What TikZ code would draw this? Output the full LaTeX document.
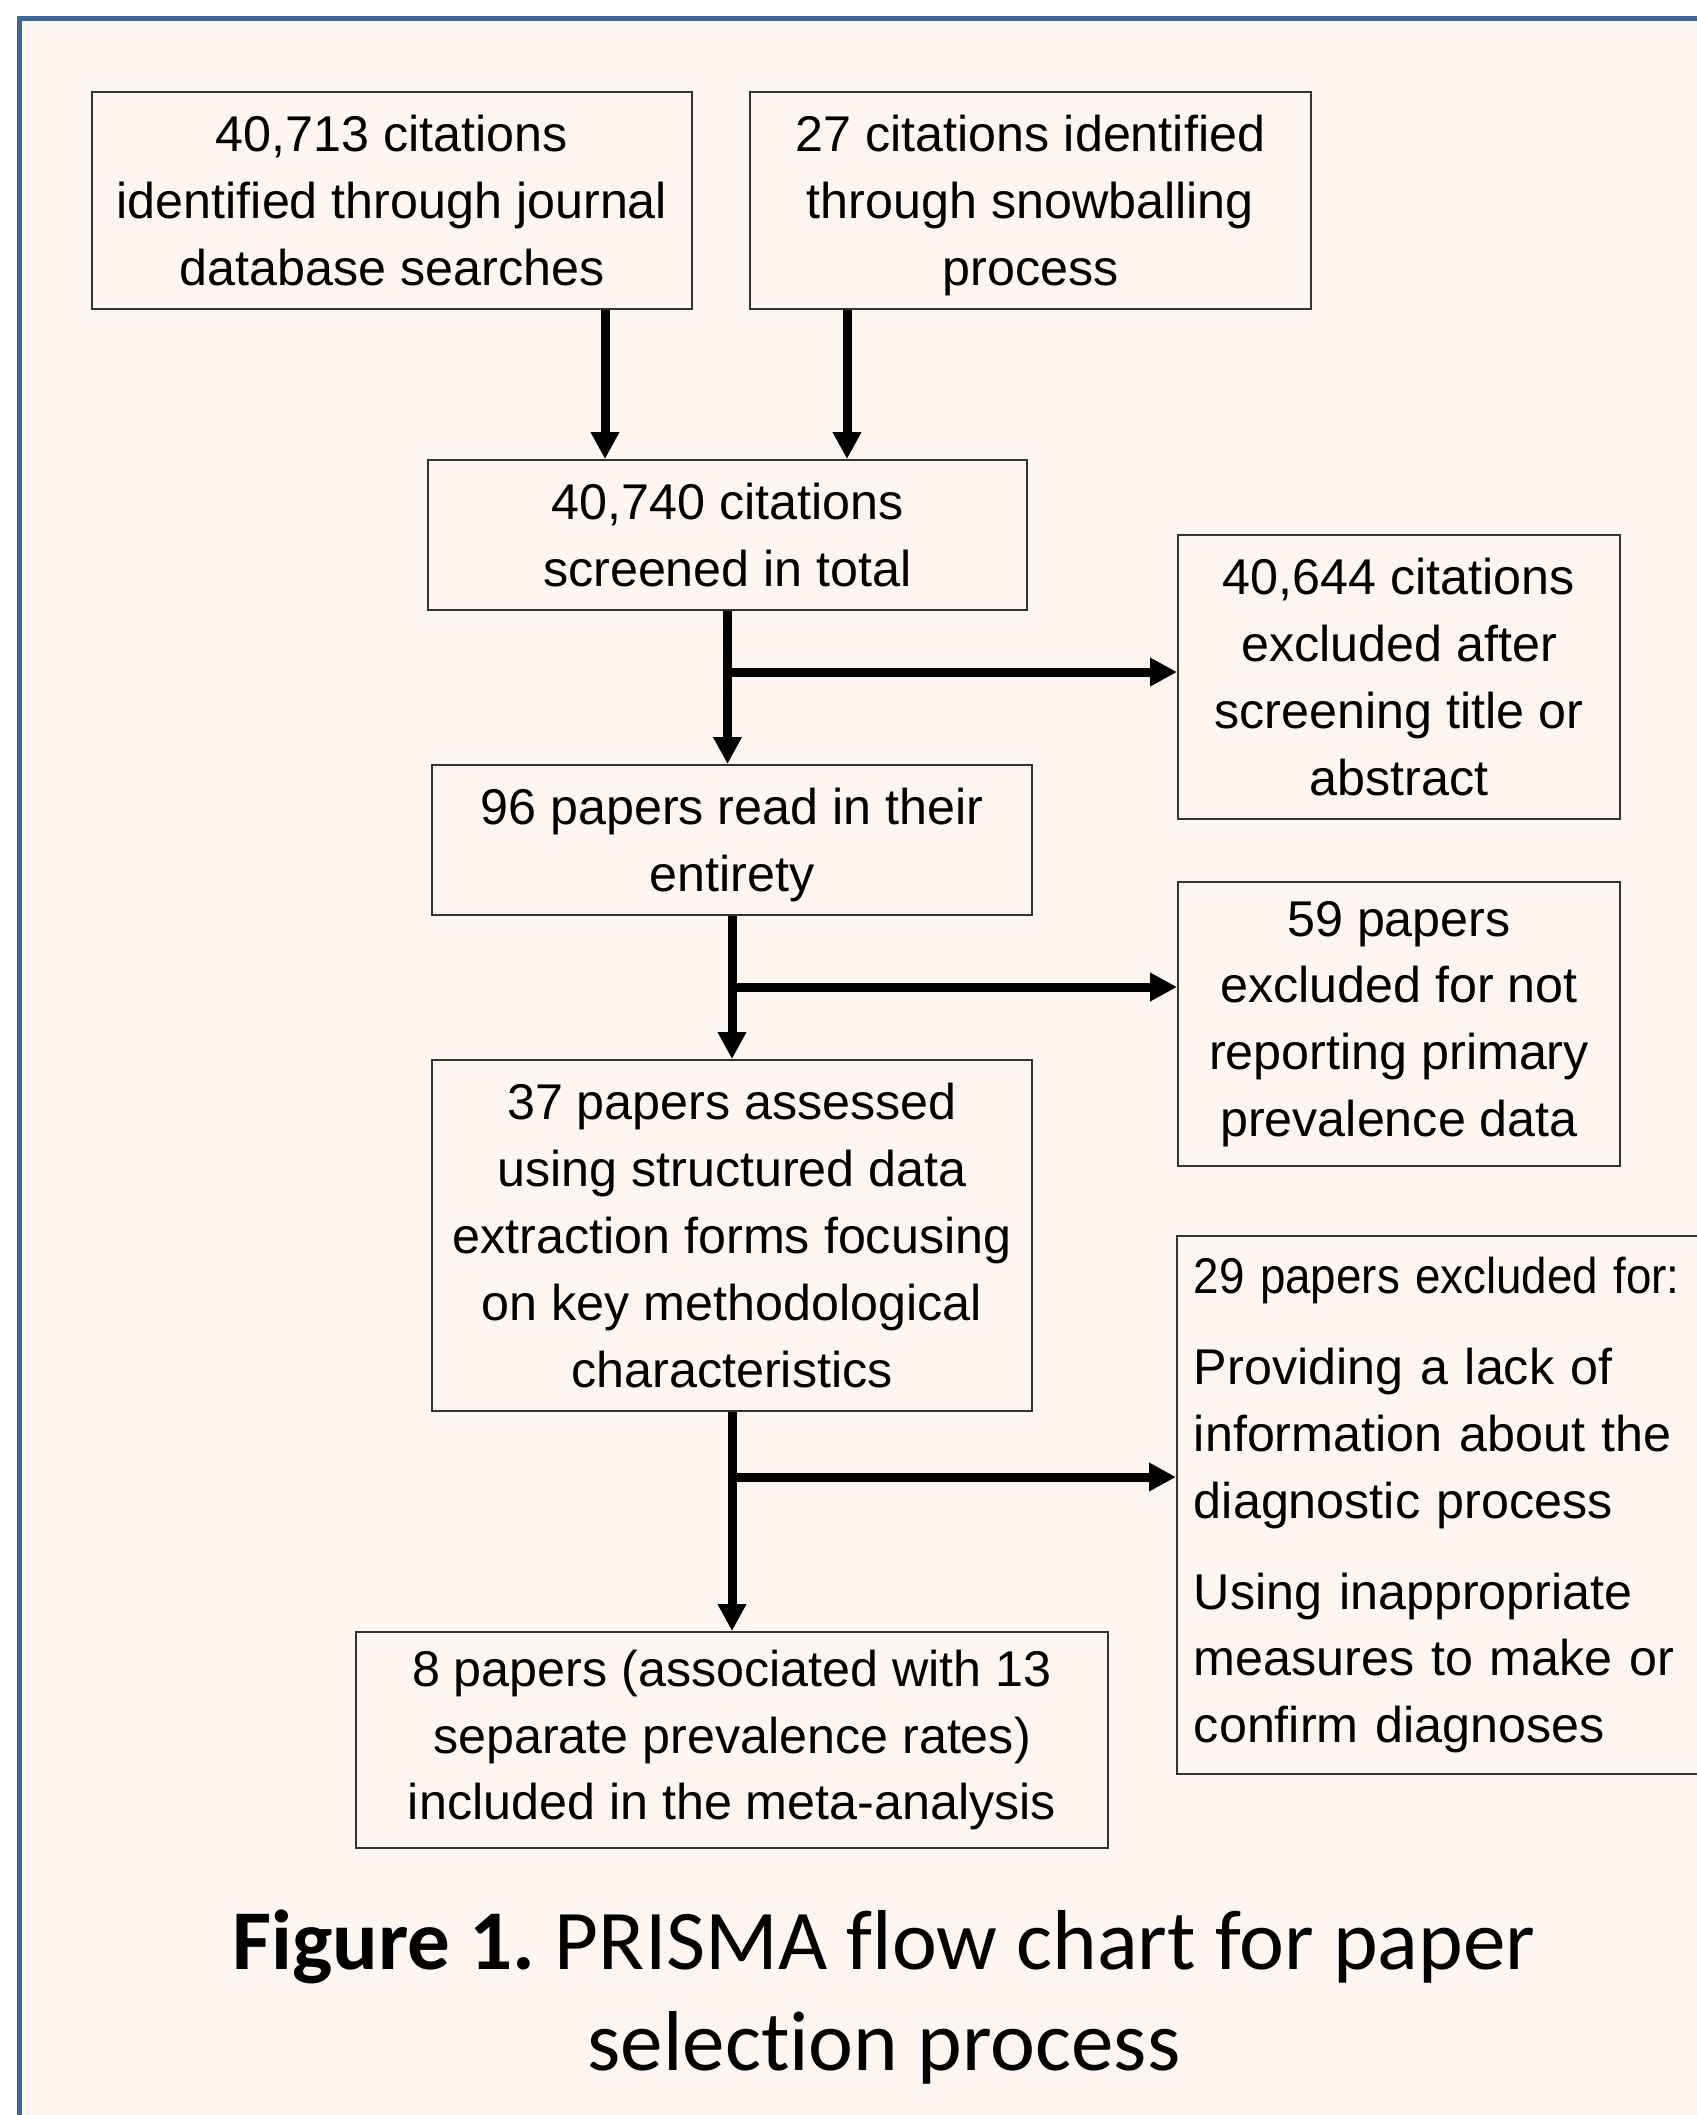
\documentclass[tikz,border=0pt]{standalone}
\usepackage{fontspec}
\setmainfont{Liberation Sans}
\newfontfamily\captionfont[Ligatures=NoCommon]{Carlito}
\usetikzlibrary{arrows.meta}

\definecolor{framebg}{HTML}{FDF5F0}
\definecolor{frameblue}{HTML}{3D6596}
\definecolor{boxline}{HTML}{333333}

\tikzset{
  box/.style={draw=boxline, line width=0.55pt, align=center, inner sep=0pt,
    font=\fontsize{14.3}{19}\selectfont},
  arrow/.style={line width=0.09cm, -{Triangle[length=0.27cm,width=0.27cm]}},
}

\begin{document}
\begin{tikzpicture}
\useasboundingbox (0,0) rectangle (16.97,-21.15);
\clip (0,0) rectangle (16.97,-21.15);

% Background
\fill[white] (0,0) rectangle (16.97,-21.15);
\draw[frameblue, line width=0.05cm, fill=framebg] (0.195,-0.18) rectangle (17.6,-21.6);

% Sources
\node[box, minimum width=6cm, minimum height=2.17cm] (jrnl) at (3.92,-2.005)
  {40,713 citations\\identified through journal\\database searches};
\node[box, minimum width=5.61cm, minimum height=2.17cm] (snow) at (10.305,-2.005)
  {\strut 27 citations identified\\through snowballing\\process};

% Main column
\node[box, minimum width=5.99cm, minimum height=1.5cm] (screen) at (7.275,-5.35)
  {40,740 citations\\screened in total};
\node[box, minimum width=6cm, minimum height=1.5cm] (full) at (7.32,-8.4)
  {\strut 96 papers read in their\\entirety};
\node[box, minimum width=6cm, minimum height=3.51cm] (assess) at (7.32,-12.355)
  {37 papers assessed\\using structured data\\extraction forms focusing\\on key methodological\\characteristics};
\node[box, minimum width=7.52cm, minimum height=2.16cm] (incl) at (7.32,-17.4)
  {8 papers (associated with 13\\separate prevalence rates)\\included in the meta-analysis};

% Exclusions
\node[box, minimum width=4.42cm, minimum height=2.84cm] (excl1) at (13.99,-6.77)
  {40,644 citations\\excluded after\\screening title or\\abstract};
\node[box, minimum width=4.42cm, minimum height=2.84cm] (excl2) at (13.99,-10.24)
  {59 papers\\excluded for not\\reporting primary\\prevalence data};
\node[box, anchor=west, align=left, text width=5.4cm, minimum height=5.38cm,
  inner xsep=0.17cm] (excl3) at (11.76,-15.05)
  {\scalebox{0.91}[1]{29 papers excluded for:}\\[6.9pt]
   Providing a lack of\\information about the\\diagnostic process\\[6.9pt]
   Using inappropriate\\measures to make or\\confirm diagnoses};

% Arrows
\coordinate (jx) at (6.05,0);
\coordinate (sx) at (8.47,0);
\coordinate (cut1) at (0,-6.72);
\coordinate (cut2) at (0,-9.87);
\coordinate (cut3) at (0,-14.77);
\draw[arrow] (jrnl.south -| jx) -- (screen.north -| jx);
\draw[arrow] (snow.south -| sx) -- (screen.north -| sx);
\draw[arrow] (screen.south) -- (screen.south |- full.north);
\draw[arrow] (screen.south |- cut1) -- (excl1.west |- cut1);
\draw[arrow] (full.south) -- (assess.north);
\draw[arrow] (full.south |- cut2) -- (excl2.west |- cut2);
\draw[arrow] (assess.south) -- (incl.north);
\draw[arrow] (assess.south |- cut3) -- (excl3.west |- cut3);

% Caption
\node[font=\captionfont\fontsize{24.2}{28.7}\selectfont\frenchspacing, align=center] (title) at (8.84,-19.97)
  {\textbf{Figure 1.} PRISMA flow chart for paper\\selection process};
\end{tikzpicture}
\end{document}
